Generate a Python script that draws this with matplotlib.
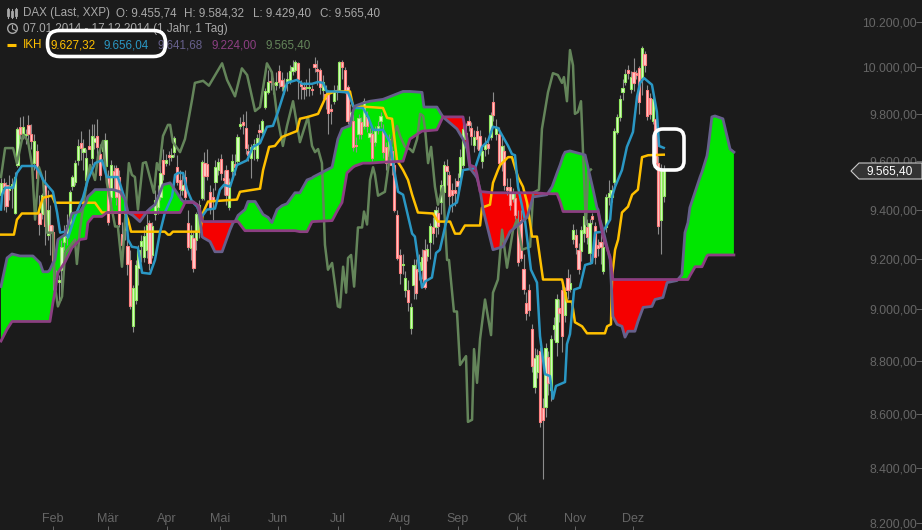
import numpy as np
import matplotlib
matplotlib.use("Agg")
import matplotlib.pyplot as plt
from matplotlib.patches import FancyBboxPatch, Polygon, Circle
from matplotlib.transforms import Affine2D

# DAX daily candles, 07.01.2014 - 17.12.2014 (index = trading day)
opens = [9461,9510,9502,9482,9494,9384,9584,9745,9715,9711,9753,9715,9592,9643,9388,9380,9502,9298,9339,9310,
 9122,9110,9157,9270,9290,9347,9498,9514,9604,9676,9638,9522,9664,9612,9680,9706,9630,9643,9580,9530,
 9453,9559,9571,9534,9302,9318,9253,9196,8934,9039,9165,9253,9208,9237,9347,9216,9380,9412,9453,9604,
 9592,9626,9617,9638,9575,9522,9482,9534,9347,9245,9286,9278,9318,9449,9592,9588,9473,9453,9514,9563,
 9608,9530,9563,9412,9559,9588,9600,9749,9766,9740,9643,9612,9651,9612,9732,9723,9829,9892,9942,9933,
 9925,9983,9946,9904,9933,9946,9983,9987,10018,9929,9917,9912,9912,9908,10013,9992,9987,9904,9883,9892,
 9821,9854,9904,9904,10022,9987,9917,9787,9770,9668,9715,9766,9749,9787,9702,9715,9680,9736,9770,9727,
 9660,9620,9643,9584,9376,9216,9176,9078,9078,8927,9098,9160,9153,9157,9237,9212,9270,9327,9327,9388,
 9429,9473,9580,9543,9482,9482,9518,9534,9584,9693,9770,9740,9668,9727,9706,9600,9651,9672,9702,9850,
 9715,9715,9592,9643,9494,9494,9445,9449,9347,9359,9160,9027,9078,8923,8700,8758,8838,8623,8627,8815,
 8690,8925,8873,9004,9078,8977,9125,9082,9282,9298,9237,9230,9306,9327,9225,9372,9331,9257,9270,9153,
 9327,9453,9453,9514,9723,9787,9892,9937,9987,9908,9979,9975,9996,9954,10058,9904,9870,9770,9779,9592,
 9359,9455.74]
closes = [9510,9494,9416,9498,9506,9534,9736,9715,9745,9715,9715,9685,9685,9530,9343,9461,9331,9400,9306,9176,
 9126,9118,9249,9294,9339,9473,9534,9592,9664,9655,9655,9612,9651,9706,9697,9660,9543,9664,9689,9351,
 9584,9539,9453,9343,9257,9351,9180,9012,9086,9176,9237,9274,9294,9339,9184,9331,9441,9461,9551,9547,
 9604,9617,9626,9697,9514,9486,9502,9453,9249,9298,9165,9380,9420,9596,9539,9539,9408,9441,9575,9596,
 9551,9522,9461,9514,9600,9575,9702,9757,9753,9655,9625,9660,9672,9697,9723,9770,9896,9937,9937,9929,
 9937,9937,9921,9925,9950,9983,10004,10022,9950,9921,9908,9917,9917,9904,10000,9983,9917,9937,9862,9804,
 9812,9896,9896,10022,10000,9904,9770,9808,9660,9664,9783,9715,9854,9749,9719,9612,9727,9749,9791,9638,
 9592,9693,9584,9400,9204,9145,9180,9126,9031,9008,9176,9066,9188,9208,9090,9241,9331,9306,9400,9331,
 9502,9584,9559,9457,9461,9470,9498,9617,9736,9719,9753,9706,9702,9693,9647,9643,9672,9655,9796,9796,
 9745,9592,9664,9502,9482,9420,9470,9376,9188,9204,9082,8988,8996,8780,8811,8823,8570,8578,8850,8716,
 8885,8940,9043,8985,8896,9070,9078,9106,9318,9250,9160,9318,9372,9290,9347,9363,9208,9245,9250,9250,
 9453,9470,9482,9727,9787,9862,9912,9971,9975,9958,9933,9967,9850,10085,10009,9791,9800,9862,9592,9331,
 9563,9565.40]
highs = [9530,9530,9514,9543,9530,9555,9745,9787,9791,9736,9796,9757,9715,9672,9461,9470,9563,9482,9420,9339,
 9157,9137,9278,9339,9380,9482,9543,9604,9693,9727,9693,9651,9736,9757,9757,9779,9672,9690,9720,9563,
 9604,9584,9584,9563,9351,9380,9286,9237,9098,9196,9257,9298,9335,9380,9359,9351,9482,9502,9584,9651,
 9630,9643,9655,9706,9625,9563,9543,9563,9400,9339,9310,9392,9441,9604,9638,9651,9502,9490,9604,9612,
 9630,9563,9584,9530,9630,9630,9715,9787,9800,9812,9672,9672,9693,9715,9757,9779,9912,9987,9979,9954,
 9979,10009,9979,9954,9979,10009,10031,10031,10022,9946,9937,9950,9996,9925,10044,10031,9996,9967,9925,9904,
 9842,9925,9925,10030,10031,10000,9925,9842,9800,9700,9800,9787,9870,9812,9740,9740,9749,9770,9808,9757,
 9680,9715,9664,9600,9400,9240,9220,9150,9118,9027,9200,9200,9220,9240,9280,9262,9345,9370,9415,9410,
 9520,9600,9610,9560,9510,9530,9550,9650,9760,9760,9790,9765,9730,9750,9730,9665,9700,9695,9810,9892,
 9780,9745,9700,9670,9530,9530,9490,9470,9400,9400,9220,9070,9100,8945,8850,8845,8855,8660,8870,8840,
 8900,8970,9060,9040,9100,9090,9160,9140,9340,9320,9265,9335,9400,9360,9360,9385,9350,9280,9300,9290,
 9465,9520,9500,9740,9800,9880,9950,9995,10010,9985,10040,9990,10005,10095,10070,9925,9890,9875,9790,9620,
 9590,9584.32]
lows = [9420,9400,9392,9441,9408,9380,9575,9693,9693,9672,9685,9651,9563,9461,9298,9360,9257,9278,9216,9078,
 9078,9039,9039,9237,9257,9339,9482,9502,9584,9604,9563,9482,9651,9584,9651,9612,9522,9610,9563,9339,
 9400,9482,9420,9327,9216,9278,9137,9000,8911,9020,9098,9188,9188,9204,9157,9204,9359,9380,9441,9522,
 9580,9584,9600,9617,9502,9441,9461,9441,9237,9196,9149,9237,9286,9441,9441,9522,9380,9359,9482,9543,
 9522,9461,9420,9400,9522,9543,9584,9736,9715,9630,9600,9530,9604,9600,9672,9715,9821,9883,9904,9883,
 9904,9912,9896,9883,9896,9929,9967,9979,9862,9862,9862,9875,9875,9880,9979,9925,9883,9862,9821,9715,
 9757,9842,9860,9896,9950,9890,9757,9766,9643,9640,9693,9693,9736,9723,9680,9600,9664,9715,9745,9612,
 9563,9610,9543,9392,9196,9100,9140,9050,8995,8905,9040,9040,9115,9120,9080,9190,9200,9260,9290,9300,
 9380,9430,9500,9390,9390,9415,9460,9500,9570,9660,9725,9670,9640,9650,9625,9570,9620,9630,9690,9770,
 9690,9585,9560,9480,9460,9400,9430,9360,9170,9190,9060,8960,8975,8760,8680,8735,8550,8360,8590,8670,
 8650,8880,8820,8950,8835,8950,9040,9070,9260,9220,9140,9190,9270,9260,9180,9340,9180,9210,9180,9140,
 9310,9420,9430,9500,9715,9770,9860,9925,9950,9890,9900,9950,9800,9880,9980,9775,9780,9755,9580,9300,
 9220,9429.40]

# yellow line (Tenkan)
yellow_day = [0,4.7,5.8,7.6,13.5,14.2,15.3,18.5,19.6,34.2,36.7,45.1,46.2,47.3,59.6,60.7,61.5,62.5,72.4,73.5,
 75.3,85.8,86.9,94.2,95.3,97.5,99.6,102.2,107.6,108.7,111.6,115.3,118.5,121.5,126.9,128,134.2,138.9,140.4,142.2,
 144,146.2,148,149.5,151.6,157.1,158.9,163.3,165.1,166.9,168.7,174.2,174.9,177.8,178.9,180.7,181.5,184.4,185.8,188,
 189.8,191.3,193.1,194.9,197.1,204,205.8,207.6,208.7,211.3,213.1,219.6,220.4,221.8,222.2,223.3,224.4,225.8,228,229.5,
 231.6,233.1,235.3,241]
yellow = [9298,9298,9359,9384,9384,9412,9449,9457,9428,9428,9388,9388,9359,9310,9310,9298,9298,9310,9310,9388,
 9433,9441,9473,9486,9563,9660,9664,9702,9727,9779,9787,9800,9883,9896,9896,9833,9829,9825,9783,9779,
 9604,9563,9522,9461,9388,9384,9351,9351,9302,9302,9335,9335,9408,9420,9510,9563,9584,9617,9617,9534,
 9494,9428,9290,9290,9118,9118,9031,9031,8950,8934,8907,8907,8934,8942,9129,9237,9278,9388,9412,9461,
 9482,9617,9625,9627.32]

# blue line (Kijun)
blue_day = [0,0.4,1.5,4.4,5.8,7.6,12.4,14.2,15.3,16.7,18.9,20.4,21.5,23.3,24.4,26.9,29.8,31.6,34.2,36.7,
 38.5,42.5,45.1,46.2,47.6,49.8,51.3,54.2,56,57.8,59.6,62.2,63.3,64.4,66.2,67.6,69.5,71.3,73.1,74.9,
 77.8,79.6,81.1,83.3,85.8,89.5,91.6,94.2,96.7,98.9,100.7,102.5,104,107.6,109.5,113.1,115.3,117.1,118.5,121.5,
 126.2,128.4,131.6,133.5,135.3,138.9,141.5,142.5,144.4,146.2,149.5,150.5,153.1,154.2,156.7,158.2,159.6,161.5,163.3,165.8,
 168,172.4,174.9,177.1,178.9,180.7,184.4,185.8,186.9,188,190.5,192.7,194.9,196,197.8,199.6,200.7,201.8,205.1,205.8,
 206.9,208.4,210.5,212.4,214.9,216,218.9,221.5,222.2,223.3,225.8,227.6,229.8,231.3,232.4,233.8,236.7,238.5,239.3,241]
blue = [9400,9461,9490,9490,9551,9580,9580,9551,9522,9502,9473,9388,9306,9310,9286,9372,9449,9522,9592,9604,
 9534,9534,9441,9278,9249,9245,9145,9141,9196,9306,9388,9453,9543,9551,9551,9482,9433,9412,9372,9400,
 9404,9482,9502,9494,9584,9604,9660,9676,9745,9749,9808,9875,9933,9946,9929,9929,9937,9933,9896,9896,
 9892,9825,9825,9787,9732,9732,9680,9592,9473,9461,9302,9290,9086,9110,9126,9224,9237,9331,9412,9429,
 9563,9571,9660,9685,9745,9740,9664,9630,9625,9494,9359,9157,9106,8896,8750,8743,8657,8705,8720,8865,
 8904,9078,9086,9176,9184,9306,9310,9359,9453,9494,9563,9660,9723,9875,9933,9954,9925,9808,9664,9656.04]

# close shifted back (green line)
lag_day = [0,1.5,4.4,5.8,8,9.8,11.3,12.4,13.8,15.3,16.7,18.9,19.6,20.7,22.2,23.3,26.9,27.6,28.7,31.3,
 32.4,34.2,35.3,37.1,38.5,41.5,42.5,44,46.5,47.6,48.7,49.8,51.6,52.7,54.2,55.6,56.7,57.5,58.9,60.7,
 61.5,62.5,65.1,66.9,69.5,70.5,73.5,75.6,80.4,82.2,85.1,87.6,89.5,92.4,94.2,96.7,98.5,100.4,102.5,104,
 106.2,108.7,111.6,113.1,114.2,115.3,116.7,117.8,118.9,120.4,122.5,123.3,124.4,125.5,126.2,127.3,128.4,129.8,131.3,132,
 133.1,134.2,135.3,136,137.1,139.6,140.7,142.2,144,145.1,146.9,148.7,149.8,151.3,152.4,153.5,154.2,155.3,156.4,157.8,
 158.9,160.7,162.2,162.9,164.7,165.8,166.9,169.1,169.8,171.3,172,173.1,174.2,176,178.2,178.9,180.7,182.2,184,186.2,
 187.6,189.5,192.4,193.5,195.6,196.7,198.9,200.7,202.5,204,204.7,205.8,206.9,208,208.7,209.8,210.9,212.7,213.5,214.5]
lag = [9534,9655,9655,9592,9711,9685,9584,9359,9575,9522,9306,9306,9090,9012,9051,9224,9278,9180,9318,9522,
 9584,9522,9622,9685,9510,9331,9331,9169,9592,9543,9534,9400,9592,9596,9530,9469,9592,9563,9706,9753,
 9753,9680,9638,9693,9862,9933,9942,9921,10018,9946,9875,9996,9967,9812,9829,10018,9979,9791,9664,9749,
 9854,9680,9787,9664,9638,9651,9592,9257,9157,9184,9012,9008,9169,9066,9204,9216,9090,9327,9327,9392,
 9339,9522,9575,9543,9457,9473,9563,9693,9749,9706,9660,9651,9638,9693,9800,9791,9736,9592,9660,9494,
 9420,9494,9196,9196,8992,8992,8785,8819,8570,8578,8846,8717,8885,9039,8900,9066,9118,9318,9165,9318,
 9359,9237,9249,9469,9482,9736,9892,9975,9967,9933,9958,9854,10076,10009,9800,9808,9854,9339,9555,9565.40]

# cloud, both span lines read at the same days
span_day = [0,2.2,4,6.9,11.6,14.2,15.3,17.1,17.8,18.9,19.6,20.7,23.3,25.8,28.7,30.9,31.6,33.5,34.2,36.7,
 38.5,40.7,43.3,45.1,46.2,48,50.5,51.6,53.1,54.2,56,58.9,61.5,64,65.1,66.2,66.9,69.8,71.3,72,
 73.1,73.5,76,77.8,80.4,83.3,84.4,85.1,86.2,88.7,89.8,92.4,95.3,97.1,98.5,100.4,102.2,104,106.9,108.7,
 111.3,113.1,113.5,120.4,122.5,124,125.8,126.9,128,128.7,131.6,134.2,138.9,146.2,148.7,153.1,153.8,158.5,160.7,165.8,
 168,169.5,170.5,172.4,173.1,174.2,175.3,178.9,182.5,185.1,191.3,193.5,194.2,198.5,200.4,202.2,203.3,204.4,205.1,206.9,
 212.4,215.3,216.7,217.1,217.8,218.9,221.5,222.5,224,225.8,226.9,228,230.5,231.6,233.5,236.7,237.8,240.7,242.2,245.8,
 247.6,248.7,249.8,250.5,252.4,254.2,254.9,256.7,257.1,258.5,259.6,262.5,265.1,266.5]
span_a = [9090,9204,9220,9212,9212,9184,9149,9149,9157,9184,9196,9278,9298,9384,9392,9429,9453,9473,9482,9482,
 9482,9482,9473,9441,9388,9376,9351,9368,9392,9404,9420,9502,9510,9469,9449,9433,9433,9433,9420,9388,
 9290,9286,9270,9229,9229,9318,9347,9351,9376,9400,9433,9433,9380,9368,9347,9400,9416,9424,9469,9469,
 9522,9530,9534,9575,9693,9736,9745,9749,9812,9833,9846,9854,9862,9896,9896,9892,9829,9829,9787,9736,
 9693,9651,9571,9543,9530,9482,9400,9237,9249,9310,9368,9453,9453,9461,9494,9551,9584,9622,9638,9643,
 9626,9482,9408,9400,9359,9318,9196,8973,8942,8934,8892,8915,8915,8953,9008,9012,9039,9047,9106,9114,
 9137,9306,9347,9408,9473,9534,9555,9622,9651,9787,9791,9779,9651,9638]
span_b = [8877,8923,8953,8953,8953,8953,8953,8953,8953,9027,9070,9145,9188,9245,9278,9282,9347,9372,9372,9372,
 9388,9388,9388,9388,9388,9388,9388,9388,9388,9388,9388,9388,9388,9388,9388,9412,9429,9429,9420,9412,
 9359,9351,9351,9351,9351,9351,9351,9351,9351,9314,9314,9314,9314,9314,9314,9314,9314,9314,9314,9310,
 9310,9351,9351,9355,9400,9429,9551,9563,9575,9580,9592,9592,9596,9600,9693,9727,9727,9732,9787,9787,
 9787,9693,9584,9575,9543,9473,9473,9469,9469,9469,9469,9469,9469,9465,9465,9465,9433,9392,9392,9392,
 9392,9392,9392,9392,9351,9290,9208,9118,9118,9118,9118,9118,9118,9118,9118,9118,9118,9118,9118,9118,
 9118,9118,9118,9133,9169,9169,9169,9212,9216,9216,9216,9216,9216,9216]

month_days = [18.9,38.9,60.4,79.6,100.7,122.5,145,166,187.6,208.7,229.8]
month_labels = ["Feb","Mär","Apr","Mai","Jun","Jul","Aug","Sep","Okt","Nov","Dez"]
price_ticks = [8200,8400,8600,8800,9000,9200,9400,9600,9800,10000,10200]
price_labels = ["8.200,00","8.400,00","8.600,00","8.800,00","9.000,00","9.200,00","9.400,00","9.600,00","9.800,00","10.000,00","10.200,00"]

BG = "#1b1b1b"
YELLOW = "#ffc000"
BLUE = "#2a97c4"
SLATE = "#66608c"
PURPLE = "#8c3f82"
LAG = "#64855a"

plt.rcParams['font.family'] = ['Liberation Sans', 'DejaVu Sans']

fig = plt.figure(figsize=(9.22, 5.30), dpi=100, facecolor=BG)
ax = fig.add_axes([0, 0, 1, 1], facecolor=BG)
ax.set_yscale('log')

day = np.arange(len(opens))
o = np.array(opens)
c = np.array(closes)
up = c >= o

# cloud
ax.fill_between(span_day, span_a, span_b, where=np.array(span_a) >= np.array(span_b),
                color="#00e600", lw=0, interpolate=True, zorder=1)
ax.fill_between(span_day, span_a, span_b, where=np.array(span_a) <= np.array(span_b),
                color="#f50000", lw=0, interpolate=True, zorder=1)

# candles
ax.vlines(day, lows, highs, color="#8c8c8c", lw=0.8, zorder=2)
ax.bar(day[up], (c - o)[up], bottom=o[up], width=0.85, facecolor="#dcfac8", edgecolor="#90e860", lw=0.8, zorder=3)
ax.bar(day[~up], (o - c)[~up], bottom=c[~up], width=0.85, facecolor="#ffcaca", edgecolor="#ff8080", lw=0.8, zorder=3)

# lines
ax.plot(span_day, span_a, color=SLATE, lw=2.0, zorder=5)
ax.plot(span_day, span_b, color=PURPLE, lw=2.0, zorder=5)
ax.plot(lag_day, lag, color=LAG, lw=1.8, zorder=4)
ax.plot(yellow_day, yellow, color=YELLOW, lw=1.8, zorder=4)
ax.plot(blue_day, blue, color=BLUE, lw=1.8, zorder=4)

ax.set_xlim(-0.36, 334.9)
ax.set_ylim(8176, 10298)
for s in ax.spines.values():
    s.set_visible(False)

ax.minorticks_off()
ax.set_xticks(month_days)
ax.set_xticklabels(month_labels)
ax.tick_params(axis='x', direction='in', length=3, width=0.7, color="#666666", labelcolor="#666666",
               labelsize=9, pad=-12.5)
ax.yaxis.tick_right()
ax.set_yticks(price_ticks)
ax.set_yticklabels(price_labels)
ax.tick_params(axis='y', which='both', direction='in', length=4, width=0.7, color="#666666",
               labelcolor="#666666", labelsize=8.8, pad=-3.5)
ax.tick_params(axis='y', which='minor', length=0, labelright=False)
for lab in ax.get_yticklabels():
    lab.set_ha('right')

# everything below is placed in picture pixels
px = Affine2D().scale(1 / 922, -1 / 530).translate(0, 1) + fig.transFigure

# price tag
ax.add_patch(Polygon([(851, 171), (859, 163), (922, 163), (922, 179), (859, 179)], closed=True,
                     facecolor="#333333", edgecolor="#c8c8c8", lw=0.8, transform=px, zorder=8))
ax.text(890, 171.5, "9.565,40", color="white", fontsize=8.6, ha='center', va='center', transform=px, zorder=9)

# header
HEAD = "#a8a8a8"
for x, s in [(23, "DAX (Last, XXP)"), (116, "O: 9.455,74"), (184, "H: 9.584,32"), (253, "L: 9.429,40"), (320, "C: 9.565,40")]:
    ax.text(x, 13, s, color=HEAD, fontsize=8.4, va='center', transform=px, zorder=9)
ax.text(23, 29, "07.01.2014 - 17.12.2014 (1 Jahr, 1 Tag)", color=HEAD, fontsize=8.4, va='center', transform=px, zorder=9)
ax.text(23, 45, "IKH", color=YELLOW, fontsize=8.4, va='center', transform=px, zorder=9)
for x, s, col in [(50, "9.627,32", YELLOW), (103, "9.656,04", BLUE), (157, "9.641,68", SLATE),
                  (211, "9.224,00", PURPLE), (265, "9.565,40", LAG)]:
    ax.text(x, 45, s, color=col, fontsize=8.4, va='center', transform=px, zorder=9)

# header icons
ax.plot([7, 16], [45, 45], color=YELLOW, lw=2.2, transform=px, zorder=9, solid_capstyle='butt')
for x, a, b, t, u in [(8, 8, 18, 10, 15), (12, 9, 18, 12, 16), (16, 8, 18, 10, 15)]:
    ax.plot([x, x], [a, b], color=HEAD, lw=0.8, transform=px, zorder=9)
    ax.plot([x, x], [t, u], color=HEAD, lw=2.0, transform=px, zorder=9)
ax.add_patch(Circle((12.5, 28.5), 4.8, fill=False, edgecolor=HEAD, lw=1.0, transform=px, zorder=9))
ax.plot([12.5, 12.5, 15.5], [25.5, 29, 30.5], color=HEAD, lw=0.8, transform=px, zorder=9)

# white marker frames
for x, y, w, h, r in [(47.5, 30.5, 118, 26, 12), (654, 129, 30, 41, 9)]:
    ax.add_patch(FancyBboxPatch((x + r, y + r), w - 2 * r, h - 2 * r, boxstyle="round,pad=%d,rounding_size=%d" % (r, r),
                                fill=False, edgecolor="white", lw=2.6, transform=px, zorder=10, mutation_aspect=1))

fig.savefig("out.png", dpi=100, facecolor=BG)
